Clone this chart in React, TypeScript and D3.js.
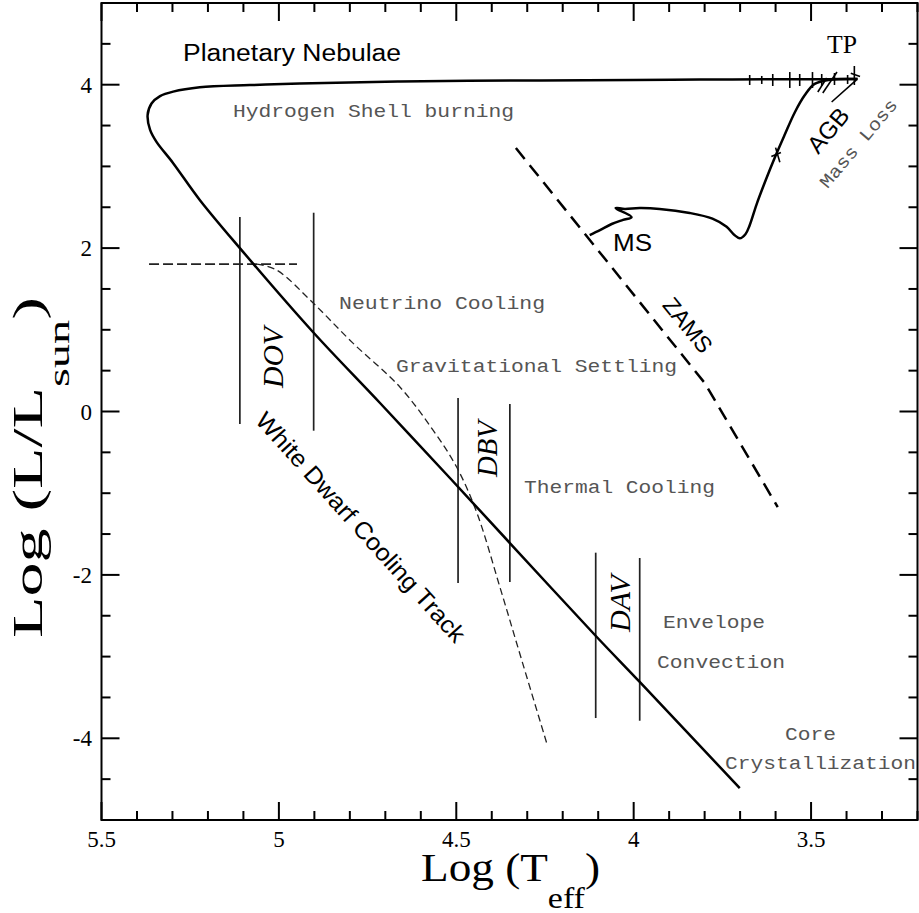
import React from "react";
import * as d3 from "d3";

// ---------- data ----------
const xMajorTicks = [5.5, 5, 4.5, 4, 3.5];
const xTickLabels = ["5.5", "5", "4.5", "4", "3.5"];
const yMajorTicks = [-4, -2, 0, 2, 4];
const yTickLabels = ["-4", "-2", "0", "2", "4"];

// ZAMS -> main sequence hook -> giant branch -> AGB -> TP
const preAgbT = [4.124, 4.095, 4.062, 4.03, 4.006, 4.051, 4.025, 3.983, 3.927, 3.842, 3.778, 3.738, 3.716, 3.701, 3.685, 3.673, 3.654, 3.628, 3.603, 3.575, 3.546, 3.518, 3.49, 3.448, 3.369];
const preAgbL = [2.16, 2.22, 2.295, 2.345, 2.38, 2.49, 2.48, 2.49, 2.48, 2.43, 2.36, 2.26, 2.16, 2.12, 2.17, 2.28, 2.53, 2.83, 3.1, 3.38, 3.66, 3.87, 4.01, 4.06, 4.07];

// post-AGB (hydrogen shell burning) -> white dwarf cooling track
const postAgbT = [3.369, 3.45, 3.6, 3.814, 4.0, 4.265, 4.659, 4.941, 5.082, 5.223, 5.298, 5.335, 5.359, 5.37, 5.363, 5.345, 5.298, 5.223, 5.11, 4.904, 4.715, 4.518, 4.349, 4.104, 3.983, 3.701];
const postAgbL = [4.07, 4.068, 4.066, 4.064, 4.058, 4.052, 4.04, 4.015, 3.995, 3.968, 3.915, 3.86, 3.77, 3.629, 3.446, 3.3, 3.04, 2.59, 2.0, 0.973, 0.104, -0.814, -1.61, -2.76, -3.31, -4.61];

// thermal pulses / mass-loss wiggles (segments)
const pulseT0 = [3.673, 3.639, 3.608, 3.56, 3.532, 3.496, 3.47, 3.434, 3.397, 3.378, 3.388, 3.481, 3.467, 3.442, 3.6, 3.612];
const pulseL0 = [4.119, 4.107, 4.131, 4.155, 4.131, 4.155, 4.131, 4.143, 4.119, 4.229, 4.14, 3.911, 3.898, 3.788, 3.23, 3.12];
const pulseT1 = [3.673, 3.639, 3.608, 3.56, 3.532, 3.496, 3.47, 3.434, 3.397, 3.378, 3.362, 3.456, 3.427, 3.372, 3.588, 3.585];
const pulseL1 = [3.996, 4.009, 3.984, 3.96, 3.984, 3.96, 3.984, 3.996, 4.009, 3.996, 4.1, 4.082, 4.155, 4.058, 3.05, 3.17];

// zero-age main sequence
const zamsT = [4.332, 3.8, 3.594];
const zamsL = [3.225, 0.35, -1.17];

// neutrino cooling boundary
const nuHorizT = [5.366, 4.949];
const nuHorizL = [1.805, 1.805];
const nuCurveT = [5.062, 5.006, 4.904, 4.792, 4.659, 4.566, 4.499, 4.442, 4.377, 4.313, 4.245];
const nuCurveL = [1.805, 1.73, 1.33, 0.84, 0.3, -0.226, -0.68, -1.24, -2.15, -3.08, -4.06];

// instability strips (DOV, DBV, DAV edges)
const stripT = [5.11, 4.902, 4.495, 4.349, 4.107, 3.983];
const stripLTop = [2.381, 2.433, 0.165, 0.092, -1.728, -1.793];
const stripLBot = [-0.153, -0.235, -2.099, -2.087, -3.752, -3.785];

// ---------- chart ----------
const SANS = "'Liberation Sans', Arial, Helvetica, sans-serif";
const MONO = "'Liberation Mono', 'Courier New', monospace";
const SERIF = "'Liberation Serif', 'Times New Roman', serif";
const GRAY = "#555";

export default function App() {
  const x = d3.scaleLinear().domain([5.5, 3.2]).range([101.5, 917.5]);
  const y = d3.scaleLinear().domain([-5, 5]).range([820, 3]);

  const smooth = d3
    .line<[number, number]>()
    .x((d) => x(d[0]))
    .y((d) => y(d[1]))
    .curve(d3.curveCatmullRom.alpha(0.5));
  const straight = d3
    .line<[number, number]>()
    .x((d) => x(d[0]))
    .y((d) => y(d[1]));

  const zip = (a: number[], b: number[]) => a.map((v, i) => [v, b[i]] as [number, number]);

  const xMinor = d3.range(0, 24).map((i) => 5.5 - i * 0.1).filter((v) => !xMajorTicks.some((m) => Math.abs(m - v) < 1e-6));
  const yMinor = d3.range(-10, 11).map((i) => i * 0.5).filter((v) => !yMajorTicks.some((m) => Math.abs(m - v) < 1e-6) && Math.abs(v) < 5);

  const x0 = x(5.5), x1 = x(3.2), yTop = y(5), yBot = y(-5);
  const maj = 18, min = 9;

  return (
    <svg width={919} height={913} style={{ position: "absolute", left: 0, top: 0, background: "#fff" }}>
      <rect x={0} y={0} width={919} height={913} fill="#fff" />
      {/* ticks */}
      <g stroke="#000" strokeWidth={2}>
        {xMajorTicks.map((t) => (
          <g key={"xm" + t}>
            <line x1={x(t)} x2={x(t)} y1={yBot} y2={yBot - maj} />
            <line x1={x(t)} x2={x(t)} y1={yTop} y2={yTop + maj} />
          </g>
        ))}
        {xMinor.map((t) => (
          <g key={"xn" + t}>
            <line x1={x(t)} x2={x(t)} y1={yBot} y2={yBot - min} />
            <line x1={x(t)} x2={x(t)} y1={yTop} y2={yTop + min} />
          </g>
        ))}
        {yMajorTicks.map((t) => (
          <g key={"ym" + t}>
            <line x1={x0} x2={x0 + maj} y1={y(t)} y2={y(t)} />
            <line x1={x1} x2={x1 - maj} y1={y(t)} y2={y(t)} />
          </g>
        ))}
        {yMinor.map((t) => (
          <g key={"yn" + t}>
            <line x1={x0} x2={x0 + min} y1={y(t)} y2={y(t)} />
            <line x1={x1} x2={x1 - min} y1={y(t)} y2={y(t)} />
          </g>
        ))}
      </g>
      <rect x={x0} y={yTop} width={x1 - x0} height={yBot - yTop} fill="none" stroke="#000" strokeWidth={2} />

      {/* tick labels */}
      <g fontFamily={SERIF} fontSize={23} fill="#000">
        {xMajorTicks.map((t, i) => (
          <text key={"xl" + t} x={x(t)} y={847} textAnchor="middle">{xTickLabels[i]}</text>
        ))}
        {yMajorTicks.map((t, i) => (
          <text key={"yl" + t} x={92} y={y(t) + 8} textAnchor="end">{yTickLabels[i]}</text>
        ))}
      </g>

      {/* axis titles */}
      <text x={421} y={881} fontFamily={SERIF} fontSize={40} textLength={179} lengthAdjust="spacingAndGlyphs">
        Log (T<tspan fontSize={30} dy={27}>eff</tspan><tspan dy={-27}>)</tspan>
      </text>
      <text transform="translate(42,638) rotate(-90)" fontFamily={SERIF} fontSize={42} textLength={341} lengthAdjust="spacingAndGlyphs">
        Log (L/L<tspan fontSize={30} dy={27}>sun</tspan><tspan dy={-27}>)</tspan>
      </text>

      {/* instability strips */}
      <g stroke="#222" strokeWidth={1.7}>
        {stripT.map((t, i) => (
          <line key={"s" + i} x1={x(t)} x2={x(t)} y1={y(stripLTop[i])} y2={y(stripLBot[i])} />
        ))}
      </g>

      {/* neutrino boundary */}
      <path d={straight(zip(nuHorizT, nuHorizL)) || ""} fill="none" stroke="#222" strokeWidth={1.7} strokeDasharray="10,4" />
      <path d={smooth(zip(nuCurveT, nuCurveL)) || ""} fill="none" stroke="#222" strokeWidth={1.3} strokeDasharray="7,4" />

      {/* ZAMS */}
      <path d={straight(zip(zamsT, zamsL)) || ""} fill="none" stroke="#000" strokeWidth={2.5} strokeDasharray="14,8" />

      {/* evolutionary track */}
      <path d={smooth(zip(preAgbT, preAgbL)) || ""} fill="none" stroke="#000" strokeWidth={2.5} strokeLinejoin="round" />
      <path d={smooth(zip(postAgbT, postAgbL)) || ""} fill="none" stroke="#000" strokeWidth={2.5} strokeLinejoin="round" />
      <g stroke="#000" strokeWidth={1.6}>
        {pulseT0.map((t, i) => (
          <line key={"p" + i} x1={x(t)} y1={y(pulseL0[i])} x2={x(pulseT1[i])} y2={y(pulseL1[i])} />
        ))}
      </g>

      {/* annotations */}
      <text x={183} y={61} fontFamily={SANS} fontSize={23} textLength={218} lengthAdjust="spacingAndGlyphs">Planetary Nebulae</text>
      <text x={827} y={53} fontFamily={SERIF} fontSize={26} textLength={30} lengthAdjust="spacingAndGlyphs">TP</text>
      <text x={613} y={251} fontFamily={SANS} fontSize={23} textLength={39} lengthAdjust="spacingAndGlyphs">MS</text>
      <text transform="translate(828,130) rotate(-50)" textAnchor="middle" dy="0.36em" fontFamily={SANS} fontSize={24}>AGB</text>
      <text transform="translate(858,143) rotate(-50)" textAnchor="middle" dy="0.36em" fontFamily={MONO} fontSize={18} fill={GRAY} textLength={110} lengthAdjust="spacingAndGlyphs">Mass Loss</text>
      <text transform="translate(688,325) rotate(51)" textAnchor="middle" dy="0.36em" fontFamily={SANS} fontSize={23}>ZAMS</text>
      <text transform="translate(361,527) rotate(48)" textAnchor="middle" dy="0.36em" fontFamily={SANS} fontSize={24} textLength={300} lengthAdjust="spacingAndGlyphs">White Dwarf Cooling Track</text>

      <g fontFamily={SERIF} fontStyle="italic" fontSize={30}>
        <text transform="translate(283,388) rotate(-90)" textLength={61} lengthAdjust="spacingAndGlyphs">DOV</text>
        <text transform="translate(497,477) rotate(-90)" textLength={56} lengthAdjust="spacingAndGlyphs">DBV</text>
        <text transform="translate(630,632) rotate(-90)" textLength={57} lengthAdjust="spacingAndGlyphs">DAV</text>
      </g>

      <g fontFamily={MONO} fontSize={18} fill={GRAY}>
        <text x={233} y={117} textLength={281} lengthAdjust="spacingAndGlyphs">Hydrogen Shell burning</text>
        <text x={339} y={309} textLength={206} lengthAdjust="spacingAndGlyphs">Neutrino Cooling</text>
        <text x={396} y={372} textLength={281} lengthAdjust="spacingAndGlyphs">Gravitational Settling</text>
        <text x={524} y={493} textLength={191} lengthAdjust="spacingAndGlyphs">Thermal Cooling</text>
        <text x={663} y={628} textLength={102} lengthAdjust="spacingAndGlyphs">Envelope</text>
        <text x={657} y={668} textLength={128} lengthAdjust="spacingAndGlyphs">Convection</text>
        <text x={785} y={740} textLength={51} lengthAdjust="spacingAndGlyphs">Core</text>
        <text x={725} y={769} textLength={191} lengthAdjust="spacingAndGlyphs">Crystallization</text>
      </g>
    </svg>
  );
}
